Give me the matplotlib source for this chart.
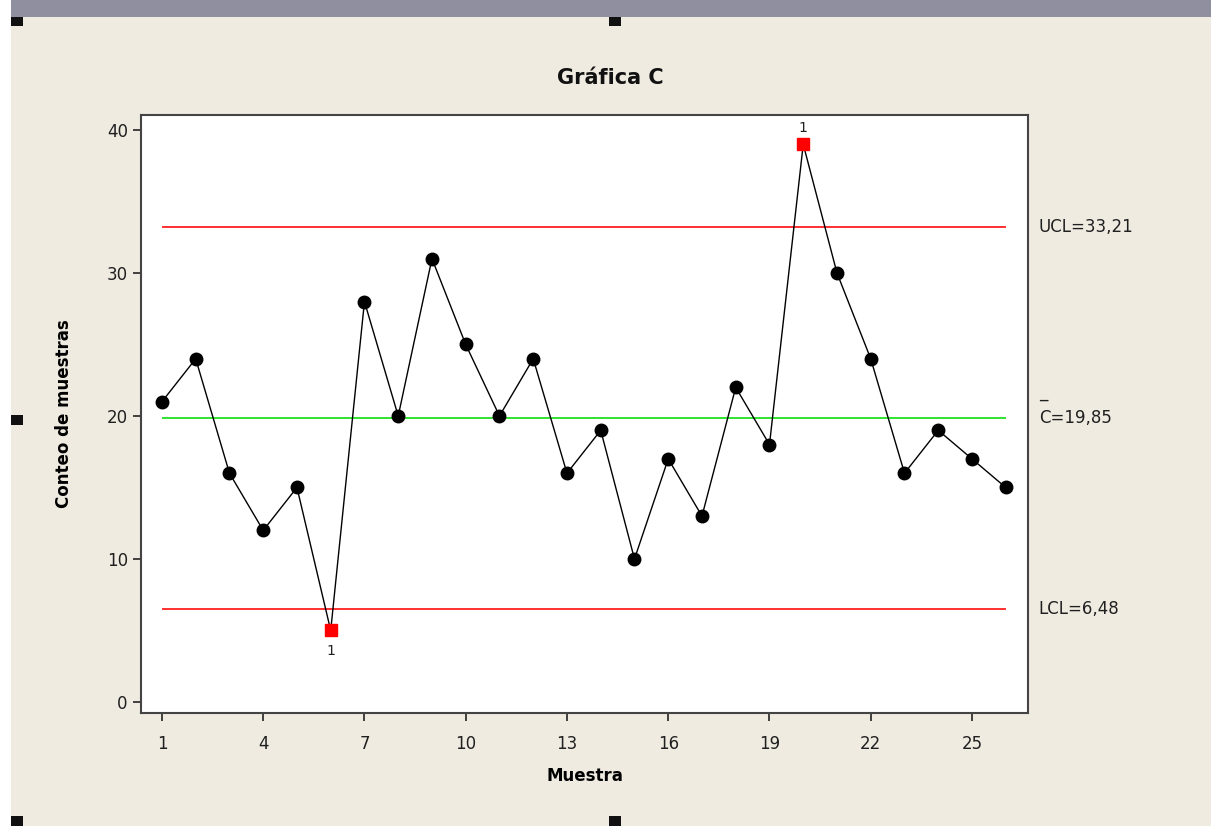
import matplotlib.pyplot as plt
from matplotlib.patches import Rectangle

# --------------------------
# DATA
# --------------------------
muestra = list(range(1, 27))
conteo = [21, 24, 16, 12, 15, 5, 28, 20, 31, 25, 20, 24, 16, 19, 10,
          17, 13, 22, 18, 39, 30, 24, 16, 19, 17, 15]
fuera = [6, 20]          # points out of control
ucl = 33.21
cbar = 19.85
lcl = 6.48
xticks = [1, 4, 7, 10, 13, 16, 19, 22, 25]
yticks = [0, 10, 20, 30, 40]

bg = "#efebe1"
fig = plt.figure(figsize=(12.11, 8.26), dpi=100, facecolor=bg)

# window chrome (screenshot look)
fig.patches.append(Rectangle((0, 0.979), 1, 0.021, transform=fig.transFigure,
                             facecolor="#8f8fa0", edgecolor="none", zorder=0))
fig.patches.append(Rectangle((0, 0), 0.009, 1, transform=fig.transFigure,
                             facecolor="white", edgecolor="none", zorder=0))
for (x, y) in [(0.009, 0.968), (0.503, 0.968), (0.009, 0.485), (0.503, 0.0), (0.009, 0.0)]:
    fig.patches.append(Rectangle((x, y), 0.01, 0.012, transform=fig.transFigure,
                                 facecolor="#111111", edgecolor="none", zorder=1))

ax = fig.add_axes([0.1164, 0.1368, 0.7325, 0.724])
ax.set_facecolor("white")

# control lines
ax.hlines([ucl, lcl], 1, 26, colors="#ff2020", linewidth=1.3, zorder=1)
ax.hlines(cbar, 1, 26, colors="#20e020", linewidth=1.3, zorder=1)

# data
ax.plot(muestra, conteo, color="black", linewidth=1, zorder=2)
normales = [i for i in muestra if i not in fuera]
ax.plot(normales, [conteo[i - 1] for i in normales], "o", color="black",
        markersize=9, zorder=3)
ax.plot(fuera, [conteo[i - 1] for i in fuera], "s", color="#ff0000",
        markersize=8, zorder=3)
for i in fuera:
    v = conteo[i - 1]
    off = -15 if v < cbar else 12
    ax.annotate("1", (i, v), xytext=(0, off), textcoords="offset points",
                ha="center", va="center", fontsize=10, color="#202020")

ax.set_xlim(0.378, 26.66)
ax.set_ylim(-0.77, 41.05)
ax.set_xticks(xticks)
ax.set_yticks(yticks)
ax.tick_params(direction="out", length=6, width=1.3, color="#333333",
               labelsize=12, labelcolor="#202020")
ax.tick_params(axis="x", pad=10)
for s in ax.spines.values():
    s.set_linewidth(1.5)
    s.set_color("#444444")

fig.text(0.504, 0.906, "Gráfica C", fontsize=15, fontweight="bold",
         color="#111111", ha="center", va="center")
ax.set_xlabel("Muestra", fontsize=12, fontweight="bold", labelpad=10)
ax.set_ylabel("Conteo de muestras", fontsize=12, fontweight="bold", labelpad=24)

# right labels
tr = ax.get_yaxis_transform()
ax.text(1.012, ucl, "UCL=33,21", transform=tr, va="center", ha="left",
        fontsize=12, color="#202020", clip_on=False)
ax.text(1.012, cbar, "C=19,85", transform=tr, va="center", ha="left",
        fontsize=12, color="#202020", clip_on=False)
ax.text(1.012, cbar + 1.2, "_", transform=tr, va="bottom", ha="left",
        fontsize=12, color="#202020", clip_on=False)
ax.text(1.012, lcl, "LCL=6,48", transform=tr, va="center", ha="left",
        fontsize=12, color="#202020", clip_on=False)

plt.savefig("out.png", dpi=100, facecolor=bg)
